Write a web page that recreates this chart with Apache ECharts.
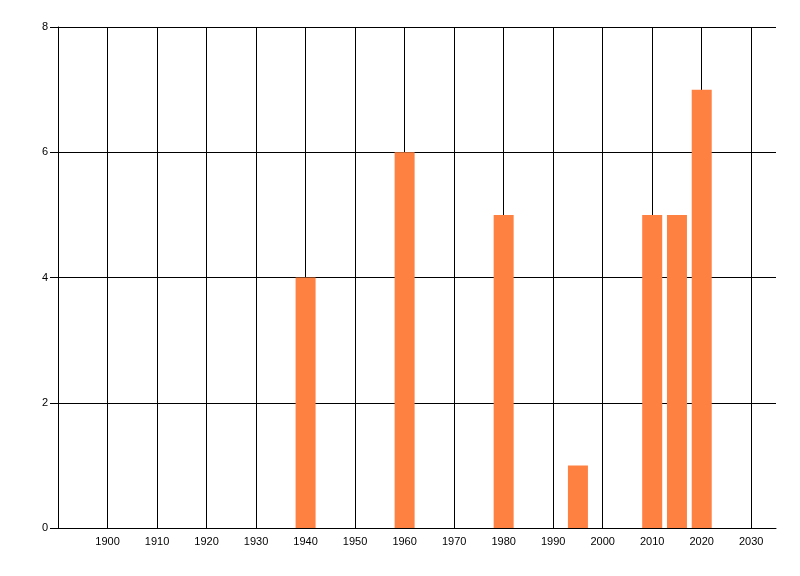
<!DOCTYPE html>
<html>
<head>
<meta charset="utf-8">
<script src="https://cdn.jsdelivr.net/npm/echarts@6/dist/echarts.min.js"></script>
<style>
html,body{margin:0;padding:0;background:#fff;}
#chart{width:800px;height:576px;}
</style>
</head>
<body>
<div id="chart"></div>
<script>
var years = [1940, 1960, 1980, 1995, 2010, 2015, 2020];
var counts = [4, 6, 5, 1, 5, 5, 7];
var xMin = 1890, xMax = 2035, xStep = 10;
var yMin = 0, yMax = 8, yStep = 2;

var chart = echarts.init(document.getElementById('chart'), null, {renderer: 'canvas'});
var font = '"Liberation Sans", Arial, sans-serif';
chart.setOption({
  animation: false,
  backgroundColor: '#ffffff',
  grid: {left: 58, right: 24, top: 27, bottom: 48, containLabel: false},
  xAxis: {
    type: 'value', min: xMin, max: xMax, interval: xStep,
    axisLine: {show: true, onZero: false, lineStyle: {color: '#000', width: 1}},
    axisTick: {show: false},
    axisLabel: {show: true, color: '#000', fontFamily: font, fontSize: 11, margin: 8,
      showMinLabel: false, showMaxLabel: false, formatter: function(v){ return String(v); }},
    splitLine: {show: true, showMinLine: true, showMaxLine: false, lineStyle: {color: '#000', width: 1}}
  },
  yAxis: {
    type: 'value', min: yMin, max: yMax, interval: yStep,
    axisLine: {show: true, lineStyle: {color: '#000', width: 1}},
    axisTick: {show: true, length: 8, lineStyle: {color: '#000', width: 1}},
    axisLabel: {show: true, color: '#000', fontFamily: font, fontSize: 11, margin: 10},
    splitLine: {show: true, lineStyle: {color: '#000', width: 1}}
  },
  series: [{
    type: 'bar',
    barWidth: 20,
    itemStyle: {color: '#FF8142'},
    data: years.map(function(y, i){ return [y, counts[i]]; })
  }]
});
</script>
</body>
</html>
